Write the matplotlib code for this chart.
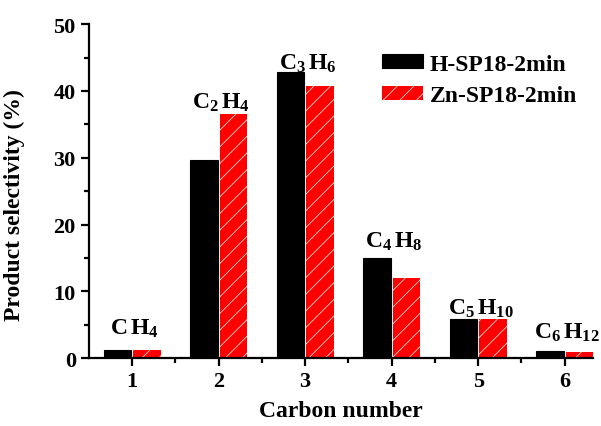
import numpy as np
import matplotlib
matplotlib.use("Agg")
import matplotlib.pyplot as plt

FN = "Liberation Serif"
plt.rc("font", family=FN, size=16, weight="bold")
plt.rc("mathtext", fontset="custom", rm="Liberation Serif:bold",
       bf="Liberation Serif:bold", it="Liberation Serif:bold")
plt.rc("hatch", linewidth=0.5)
plt.rc("axes", linewidth=1.6)

carbon = [1, 2, 3, 4, 5, 6]
h_sp18 = [1.2, 29.7, 42.8, 15.0, 5.9, 1.0]
zn_sp18 = [1.2, 36.6, 40.7, 12.0, 5.8, 0.9]
products = ["CH$_4$", "C$_2$H$_4$", "C$_3$H$_6$", "C$_4$H$_8$", "C$_5$H$_{10}$", "C$_6$H$_{12}$"]
label_y = [4.5, 38.3, 44.2, 17.6, 7.6, 3.9]

fig = plt.figure(figsize=(6.01, 4.27), dpi=100)
ax = fig.add_axes([0.148, 0.159, 0.839, 0.782])

x = np.array(carbon, dtype=float)
w = 0.32
ax.bar(x - 0.17, h_sp18, w, color="black", edgecolor="black", lw=0.8, label="H-SP18-2min")
ax.bar(x + 0.17, zn_sp18, w, color="red", edgecolor="white", lw=0, hatch="//",
       label="Zn-SP18-2min")

for xi, lab, yi in zip(x, products, label_y):
    t = lab.replace("$", "").replace("H", r"\/H")
    ax.text(xi + 0.03, yi, r"$\mathrm{" + t + "}$",
            ha="center", va="center", fontsize=17)

ax.set_xlim(0.5, 6.33)
ax.set_ylim(0, 50)
ax.set_xticks(carbon)
ax.set_xticks(np.arange(1.5, 6.0, 1.0), minor=True)
ax.set_yticks(np.arange(0, 51, 10))
ax.set_yticks(np.arange(5, 50, 10), minor=True)
ax.tick_params(which="major", direction="out", length=6, width=1.6, labelsize=16)
ax.tick_params(which="minor", direction="out", length=3.5, width=1.6)
for s in ["top", "right"]:
    ax.spines[s].set_visible(False)

ax.set_xlabel("Carbon number", fontsize=17, fontweight="bold", labelpad=6)
ax.set_ylabel("Product selectivity (%)", fontsize=17, fontweight="bold")
ax.yaxis.set_label_coords(-0.127, 0.46)

leg = ax.legend(loc="upper left", bbox_to_anchor=(0.562, 0.94), frameon=False,
                fontsize=17, handlelength=1.74, handleheight=0.55, handletextpad=0.3,
                labelspacing=0.45, borderaxespad=0)

fig.savefig("out.png", dpi=100)
